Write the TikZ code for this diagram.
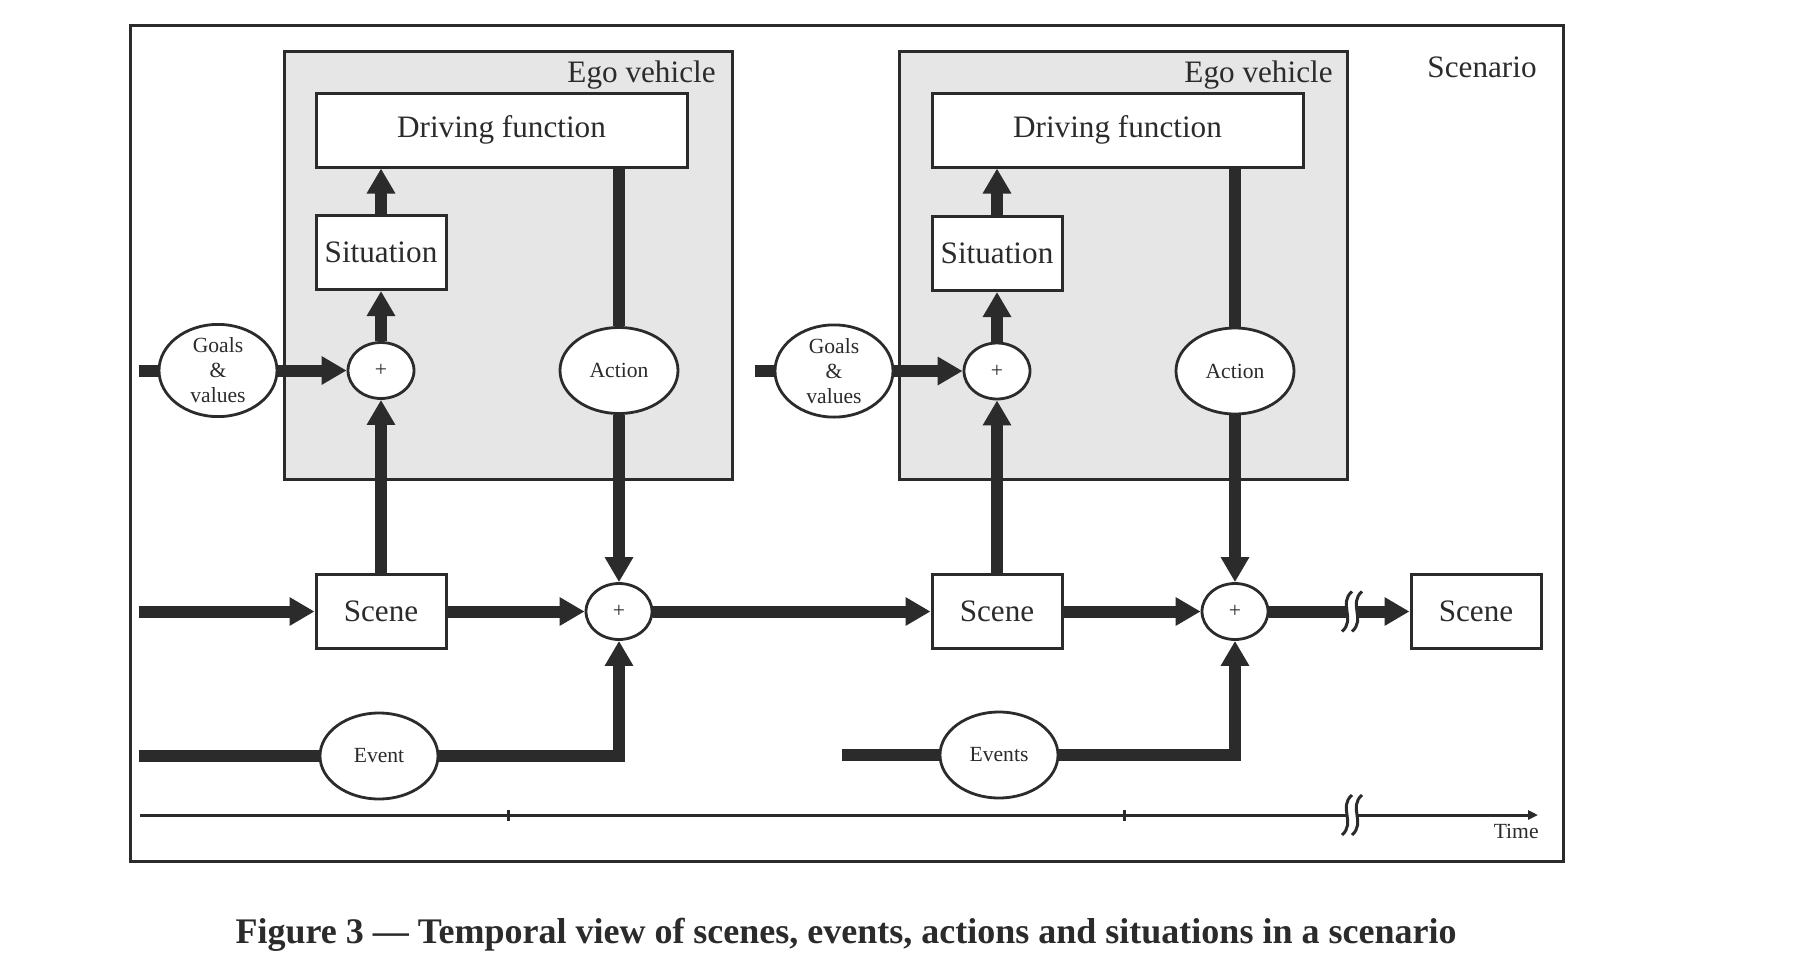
\documentclass[tikz,border=0pt]{standalone}
\usepackage{fontspec}
\setmainfont{Liberation Serif}
\usepackage{tikz}
\usetikzlibrary{calc,shapes.geometric,arrows.meta}
\definecolor{ink}{HTML}{2B2B2B}
\definecolor{egogray}{HTML}{E6E6E6}
% two wavy strokes with a white gap: x, y
\newcommand{\breakmark}[2]{%
  \fill[white] (#1,{#2-20}) .. controls ({#1-14},{#2-8}) and ({#1+4},{#2+8}) .. ({#1-10},{#2+20}) %
    -- (#1,{#2+20}) .. controls ({#1+14},{#2+8}) and ({#1-4},{#2-8}) .. ({#1+10},{#2-20}) -- cycle;
  \draw[ink,line width=1.5pt] (#1,{#2-20}) .. controls ({#1-14},{#2-8}) and ({#1+4},{#2+8}) .. ({#1-10},{#2+20});
  \draw[ink,line width=1.5pt] ({#1+10},{#2-20}) .. controls ({#1-4},{#2-8}) and ({#1+14},{#2+8}) .. (#1,{#2+20});
}

\begin{document}
\begin{tikzpicture}[x=0.5pt,y=-0.5pt,
    every node/.style={font=\fontsize{15.6}{18}\selectfont,text=ink},
    box/.style={draw=ink,line width=1.5pt,fill=white,minimum width=65pt,minimum height=37pt,inner sep=0pt},
    oval/.style={ellipse,draw=ink,line width=1.4pt,fill=white,minimum width=59pt,minimum height=43pt,%
      inner sep=0pt,align=center,font=\fontsize{10.8}{12.5}\selectfont},
    sumnode/.style={oval,minimum width=33pt,minimum height=28pt},
    tag/.style={anchor=base east,inner sep=0pt},
    flow/.style={draw=ink,line width=6pt},
    arr/.style={flow,-{Triangle[length=12.5pt,width=13.5pt]}},
    egobox/.style={draw=ink,line width=1.5pt,fill=egogray}]
  \useasboundingbox (0,0) rectangle (1796,964);
  \draw[ink,line width=1.5pt] (130,25) rectangle (1563,861);
  \node[tag] (scen) at (1537,77) {Scenario};

  \draw[egobox] (284,51) rectangle (732,479);
  \draw[egobox] (899,51) rectangle (1347,479);
  \node[tag] (ego1) at (716,82) {Ego vehicle};
  \node[tag] (ego2) at (1333,82) {Ego vehicle};

  % first step
  \node[box,minimum width=185.5pt] (drive1) at (501.5,130) {Driving function};
  \node[box] (sit1) at (381,252.5) {Situation};
  \node[sumnode] (sum1) at (381,370.5) {+};
  \node[oval] (goals1) at (218,370.5) {Goals\\\&\\values};
  \node[oval] (act1) at (619,370.5) {Action};
  \node[box] (scene1) at (381,611.5) {Scene};
  \node[sumnode] (sum2) at (619,611.5) {+};
  \node[oval] (event1) at (379,756) {Event};
  \coordinate (gin1) at (139,370.5);
  \coordinate (sin1) at (139,611.5);
  \coordinate (ein1) at (139,756);

  % second step
  \node[box,minimum width=185.5pt] (drive2) at (1117.5,130) {Driving function};
  \node[box] (sit2) at (997,253.5) {Situation};
  \node[sumnode] (sum3) at (997,371) {+};
  \node[oval] (goals2) at (834,371) {Goals\\\&\\values};
  \node[oval] (act2) at (1235,371) {Action};
  \node[box] (scene2) at (997,611.5) {Scene};
  \node[sumnode] (sum4) at (1235,611.5) {+};
  \node[oval] (event2) at (999,755) {Events};
  \node[box] (scene3) at (1476,611.5) {Scene};
  \coordinate (gin2) at (755,371);
  \coordinate (ein2) at (842,755);

  \draw[flow] (gin1) -- (goals1);
  \draw[arr] (goals1) -- (sum1);
  \draw[arr] (scene1) -- (sum1);
  \draw[arr] (sum1) -- (sit1);
  \draw[arr] (sit1.north) -- (sit1.north |- drive1.south);
  \draw[flow] (drive1.south -| act1.north) -- (act1);
  \draw[arr] (act1) -- (sum2);
  \draw[arr] (sin1) -- (scene1);
  \draw[arr] (scene1) -- (sum2);
  \draw[arr] (sum2) -- (scene2);
  \draw[flow] (ein1) -- (event1);
  \draw[arr] (event1) -| (sum2);

  \draw[flow] (gin2) -- (goals2);
  \draw[arr] (goals2) -- (sum3);
  \draw[arr] (scene2) -- (sum3);
  \draw[arr] (sum3) -- (sit2);
  \draw[arr] (sit2.north) -- (sit2.north |- drive2.south);
  \draw[flow] (drive2.south -| act2.north) -- (act2);
  \draw[arr] (act2) -- (sum4);
  \draw[arr] (scene2) -- (sum4);
  \draw[flow] (ein2) -- (event2);
  \draw[arr] (event2) -| (sum4);
  \draw[arr] (sum4) -- (scene3);
  \breakmark{1352}{611.5}

  % time axis
  \coordinate (t0) at (140,815);
  \coordinate (t1) at (1538,815);
  \draw[ink,line width=1.5pt,-{Triangle[length=5pt,width=4.5pt]}] (t0) -- (t1);
  \foreach \tx in {508,1124}
    \draw[ink,line width=1.5pt] (\tx,810) -- (\tx,821);
  \breakmark{1352}{815}
  \node[tag,font=\fontsize{10.8}{12.5}\selectfont] (time) at (1539,838) {Time};

  \node[font=\bfseries\fontsize{18}{22}\selectfont] (cap) at (846,935) %
    {Figure 3 --- Temporal view of scenes, events, actions and situations in a scenario};
\end{tikzpicture}
\end{document}
